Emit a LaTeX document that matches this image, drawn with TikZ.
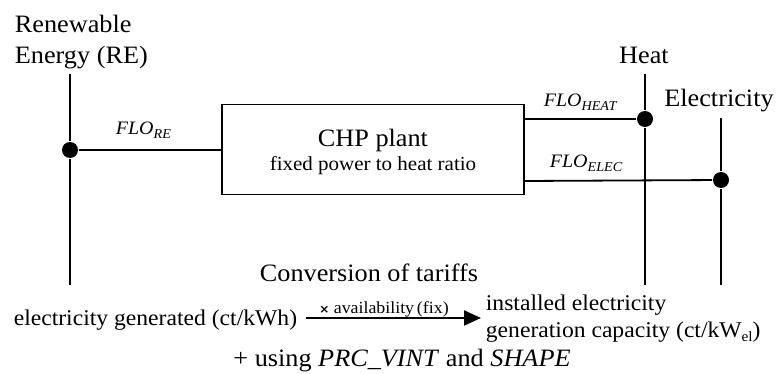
\documentclass[tikz,border=0pt]{standalone}
\usepackage{fontspec}
\setmainfont{Liberation Serif}[FakeStretch=1.05]
\newfontfamily\symfont{DejaVu Sans}
\usetikzlibrary{arrows.meta}
\newcommand\mysub[1]{\raisebox{-0.35ex}{\fontsize{13.5}{13.5}\selectfont #1}}
\begin{document}
\begin{tikzpicture}[x=1pt,y=-1pt, line width=1.8pt,
  dot/.style={circle,fill=black,draw=none,inner sep=0pt,minimum size=16pt},
  big/.style={inner sep=0pt,font=\fontsize{25}{30}\selectfont},
  mid/.style={inner sep=0pt,font=\fontsize{22.5}{27}\selectfont},
  flo/.style={inner sep=0pt,font=\fontsize{19}{21}\selectfont\itshape},
  box/.style={draw,rectangle,minimum width=302pt,minimum height=90pt,inner sep=0pt},
  conv/.style={-{Triangle[length=17pt,width=15pt]},line width=2.2pt}
]
\useasboundingbox (0,0) rectangle (776,374);

% labels at top
\node[big,anchor=base west] (ren) at (14,33) {Renewable};
\node[big,anchor=base west] (ene) at (14,64) {Energy (RE)};
\node[big,anchor=base] (heat) at (644,64) {Heat};
\node[big,anchor=base] (elec) at (719,107) {Electricity};

% line ends
\coordinate (reTop) at (70,74);
\coordinate (reBot) at (70,285);
\coordinate (heTop) at (645,74);
\coordinate (heBot) at (645,285);
\coordinate (elTop) at (721,118);
\coordinate (elBot) at (721,285);

% dots
\node[dot] (reDot) at (70,150) {};
\node[dot] (heDot) at (645,119) {};
\node[dot] (elDot) at (721,180) {};

% CHP box
\node[box] (chp) at (373,149.5) {};
\node[big,anchor=base] (chpT) at (373,147) {CHP plant};
\node[inner sep=0pt,anchor=base,font=\fontsize{20}{22}\selectfont] (chpS) at (373,171) {fixed power to heat ratio};

\coordinate (elIn) at (524,181);

% buses
\draw (reTop) -- (reDot) -- (reBot);
\draw (heTop) -- (heDot) -- (heBot);
\draw (elTop) -- (elDot) -- (elBot);

% flows
\draw (reDot) -- (reDot -| chp.west);
\draw (heDot) -- (heDot -| chp.east);
\draw (elIn) -- (elDot);

\node[flo,anchor=base west] (floRE) at (115,135) {FLO\mysub{RE}};
\node[flo,anchor=base west] (floH) at (543,107) {FLO\mysub{HEAT}};
\node[flo,anchor=base west] (floE) at (549,168) {FLO\mysub{ELEC}};

% bottom
\node[big,anchor=base] (convT) at (369,281) {Conversion of tariffs};
\node[mid,anchor=base east] (gen) at (298,325) {electricity generated (ct/kWh)};
\node[mid,anchor=base west] (inst1) at (485,310) {installed electricity};
\node[mid,anchor=base west] (inst2) at (485,337) {generation capacity (ct/kW{\raisebox{-0.4ex}{\fontsize{14.5}{14.5}\selectfont el}})};
\coordinate (arA) at (306,318);
\coordinate (arB) at (481,318);
\draw[conv] (arA) -- (arB);
\node[inner sep=0pt,anchor=base,font=\fontsize{17}{18}\selectfont] (avail) at (384,313) {{\symfont\fontsize{12}{13}\selectfont\bfseries ×} availability\,(fix)};
\node[big,anchor=base] (using) at (402,366) {+ using \textit{PRC\_VINT} and \textit{SHAPE}};
\end{tikzpicture}
\end{document}
